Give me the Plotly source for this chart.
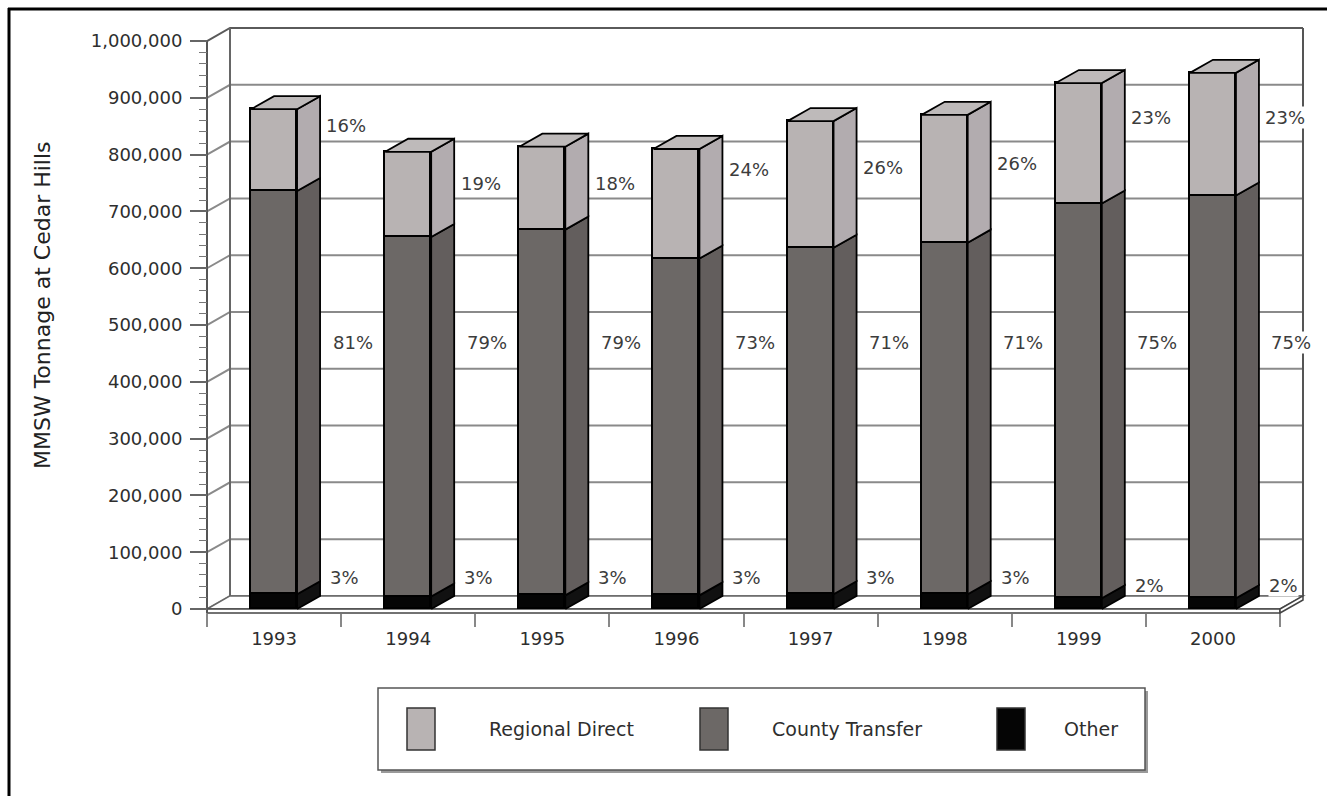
import plotly.graph_objects as go

# ---- data -------------------------------------------------------------
years = ["1993", "1994", "1995", "1996", "1997", "1998", "1999", "2000"]
regional_direct = [144000, 150000, 146000, 193000, 223000, 225000, 212000, 216000]
county_transfer = [710000, 633000, 644000, 593000, 610000, 619000, 695000, 709000]
other = [26000, 22000, 24000, 24000, 26000, 26000, 19000, 19000]

y_tick_values = list(range(0, 1_000_001, 100_000))
y_tick_labels = [f"{v:,}" for v in y_tick_values]

# ---- geometry / style -------------------------------------------------
DX = 0.1715          # depth of the 3-D box along x (category units)
DY = 23000           # depth of the 3-D box along y (tonnes)
BAR_W = 0.343        # bar front-face width
SLAB = 7000          # floor slab thickness
YMAX = 1_000_000
N = len(years)
X0, X1 = -0.5, N - 0.5

# percent label placement (category offset, height)
REG_OFF, COUNTY_OFF, OTHER_OFF = 0.54, 0.585, 0.525
reg_label_y = [852000, 750000, 750000, 773000, 778000, 785000, 866000, 866000]
county_label_y = [470000] * N
other_label_y = [55000, 55000, 55000, 55000, 55000, 55000, 41000, 41000]

FONT = "DejaVu Sans"
TXT = "#2e2e2e"
GRID = "#8a8a8a"
EDGE = 1.8

REG_FRONT, REG_SIDE, REG_TOP = "#b8b3b3", "#b2acaf", "#bebaba"
CTY_FRONT, CTY_SIDE = "#6c6866", "#635e5d"
OTH_FRONT, OTH_SIDE = "#050505", "#111111"

# pixel frame of the plotting area
W, H = 1327, 796
PL, PR, PT, PB = 203, 1307, 24, 617
px_per_unit = 134.1
pad_x = 4 / px_per_unit
tonnes_per_px = 1_000_000 / 568.0
pad_y = 4 * tonnes_per_px


def paper_x(px):
    return (px - PL) / (PR - PL)


def paper_y(py):
    return (PB - py) / (PB - PT)


xs = list(range(N))
total = [r + c + o for r, c, o in zip(regional_direct, county_transfer, other)]

fig = go.Figure()

# front faces (stacked bars)
for vals, col in [(other, OTH_FRONT), (county_transfer, CTY_FRONT), (regional_direct, REG_FRONT)]:
    fig.add_trace(go.Bar(
        x=xs, y=vals, width=BAR_W,
        marker=dict(color=col, line=dict(color="black", width=EDGE)),
        showlegend=False, hoverinfo="skip",
    ))

# side and top faces
bottoms = [[0] * N]
tops = []
run = [0] * N
for vals in (other, county_transfer, regional_direct):
    run = [a + b for a, b in zip(run, vals)]
    tops.append(run)
    bottoms.append(run)


def side_faces(bot, top):
    px, py = [], []
    for i in range(N):
        xr = i + BAR_W / 2
        px += [xr, xr + DX, xr + DX, xr, xr, None]
        py += [bot[i], bot[i] + DY, top[i] + DY, top[i], bot[i], None]
    return px, py


for k, col in enumerate([OTH_SIDE, CTY_SIDE, REG_SIDE]):
    px, py = side_faces(bottoms[k], tops[k])
    fig.add_trace(go.Scatter(
        x=px, y=py, mode="lines", fill="toself", fillcolor=col,
        line=dict(color="black", width=EDGE), showlegend=False, hoverinfo="skip",
    ))

tx, ty = [], []
for i in range(N):
    xl, xr, t = i - BAR_W / 2, i + BAR_W / 2, tops[2][i]
    tx += [xl, xr, xr + DX, xl + DX, xl, None]
    ty += [t, t, t + DY, t + DY, t, None]
fig.add_trace(go.Scatter(
    x=tx, y=ty, mode="lines", fill="toself", fillcolor=REG_TOP,
    line=dict(color="black", width=EDGE), showlegend=False, hoverinfo="skip",
))

# ---- walls, gridlines, floor -----------------------------------------
shapes = []
for v in y_tick_values:
    shapes.append(dict(
        type="path", layer="below", xref="x", yref="y",
        path=f"M {X0},{v} L {X0 + DX},{v + DY} L {X1 + DX},{v + DY}",
        line=dict(color=GRID if v < YMAX else "#5a5a5a", width=2),
    ))
shapes.append(dict(type="line", layer="below", xref="x", yref="y",
                   x0=X0 + DX, y0=DY, x1=X0 + DX, y1=YMAX + DY,
                   line=dict(color="#666666", width=2)))
shapes.append(dict(type="line", layer="below", xref="x", yref="y",
                   x0=X1 + DX, y0=DY, x1=X1 + DX, y1=YMAX + DY,
                   line=dict(color="#555555", width=2)))
# floor top surface
shapes.append(dict(type="path", layer="below", xref="x", yref="y",
                   path=f"M {X0},0 L {X1},0 L {X1 + DX},{DY} L {X0 + DX},{DY} Z",
                   fillcolor="white", line=dict(color="#666666", width=1.5)))
# floor slab front and right side
shapes.append(dict(type="path", layer="below", xref="x", yref="y",
                   path=f"M {X0},{-SLAB} L {X1},{-SLAB} L {X1},0 L {X0},0 Z",
                   fillcolor="white", line=dict(color="#444444", width=1.5)))
shapes.append(dict(type="path", layer="below", xref="x", yref="y",
                   path=f"M {X1},{-SLAB} L {X1 + DX},{-SLAB + DY} L {X1 + DX},{DY} L {X1},0 Z",
                   fillcolor="white", line=dict(color="#444444", width=1.5)))
# front value axis
shapes.append(dict(type="line", layer="below", xref="x", yref="y",
                   x0=X0, y0=-SLAB, x1=X0, y1=YMAX,
                   line=dict(color="#555555", width=2)))

# ---- legend (drawn as a boxed key) -----------------------------------
shapes.append(dict(type="rect", xref="paper", yref="paper",
                   x0=paper_x(381), x1=paper_x(1148), y0=paper_y(773), y1=paper_y(691),
                   fillcolor="#9a9a9a", line=dict(width=0)))
shapes.append(dict(type="rect", xref="paper", yref="paper",
                   x0=paper_x(378), x1=paper_x(1145), y0=paper_y(770), y1=paper_y(688),
                   fillcolor="white", line=dict(color="#555555", width=1.5)))
legend_items = [("Regional Direct", REG_FRONT, 407, 487),
                ("County Transfer", CTY_FRONT, 700, 770),
                ("Other", OTH_FRONT, 997, 1062)]
annotations = []
for name, col, sx, tx_ in legend_items:
    shapes.append(dict(type="rect", xref="paper", yref="paper",
                       x0=paper_x(sx), x1=paper_x(sx + 28),
                       y0=paper_y(750), y1=paper_y(708),
                       fillcolor=col, line=dict(color="#333333", width=1.5)))
    annotations.append(dict(xref="paper", yref="paper", x=paper_x(tx_), y=paper_y(729),
                            text=name, showarrow=False, xanchor="left", yanchor="middle",
                            font=dict(family=FONT, size=19, color=TXT)))

# outer frame
shapes.append(dict(type="line", xref="paper", yref="paper",
                   x0=paper_x(9), x1=paper_x(9), y0=paper_y(8), y1=paper_y(796),
                   line=dict(color="black", width=3)))
shapes.append(dict(type="line", xref="paper", yref="paper",
                   x0=paper_x(8), x1=paper_x(1327), y0=paper_y(9), y1=paper_y(9),
                   line=dict(color="black", width=3)))

# ---- percent labels ---------------------------------------------------
for i in range(N):
    for vals, off, ly in [(regional_direct, REG_OFF, reg_label_y),
                          (county_transfer, COUNTY_OFF, county_label_y),
                          (other, OTHER_OFF, other_label_y)]:
        pct = round(100 * vals[i] / total[i])
        annotations.append(dict(
            xref="x", yref="y", x=i + off, y=ly[i], text=f"{pct}%",
            showarrow=False, xanchor="center", yanchor="middle",
            bgcolor="white" if i == N - 1 else "rgba(0,0,0,0)", borderpad=0,
            font=dict(family=FONT, size=18, color="#3c3c3c"),
        ))

# value axis title
annotations.append(dict(xref="paper", yref="paper", x=paper_x(42), y=paper_y(305),
                        text="MMSW Tonnage at Cedar Hills", textangle=-90, showarrow=False,
                        xanchor="center", yanchor="middle",
                        font=dict(family=FONT, size=22, color="#222222")))

minor_y = [v for v in range(20000, YMAX, 20000) if v % 100000]

fig.update_layout(
    width=W, height=H,
    margin=dict(l=PL, r=W - PR, t=PT, b=H - PB),
    paper_bgcolor="white", plot_bgcolor="white",
    barmode="stack", bargap=0,
    showlegend=False,
    shapes=shapes, annotations=annotations,
    xaxis=dict(
        range=[X0 - pad_x, X1 + DX + pad_x],
        anchor="free", position=paper_y(613),
        tickmode="array", tickvals=xs, ticktext=years,
        ticks="outside", ticklen=9, tickcolor="rgba(0,0,0,0)",
        minor=dict(tickmode="array", tickvals=[X0 + i for i in range(N + 1)],
                   ticks="outside", ticklen=13, tickwidth=1.5, tickcolor="#888888"),
        tickfont=dict(family=FONT, size=18, color=TXT),
        showgrid=False, zeroline=False, showline=False, fixedrange=True,
    ),
    yaxis=dict(
        range=[-SLAB - pad_y, YMAX + DY + pad_y],
        anchor="free", position=paper_x(207),
        tickmode="array", tickvals=y_tick_values, ticktext=y_tick_labels,
        ticks="outside", ticklen=17, tickwidth=1.5, tickcolor="#666666",
        ticklabelstandoff=4,
        minor=dict(tickmode="array", tickvals=minor_y, ticks="outside",
                   ticklen=8, tickwidth=1, tickcolor="#777777"),
        tickfont=dict(family=FONT, size=18, color=TXT),
        showgrid=False, zeroline=False, showline=False, fixedrange=True,
    ),
)

fig.write_html("out.html")
